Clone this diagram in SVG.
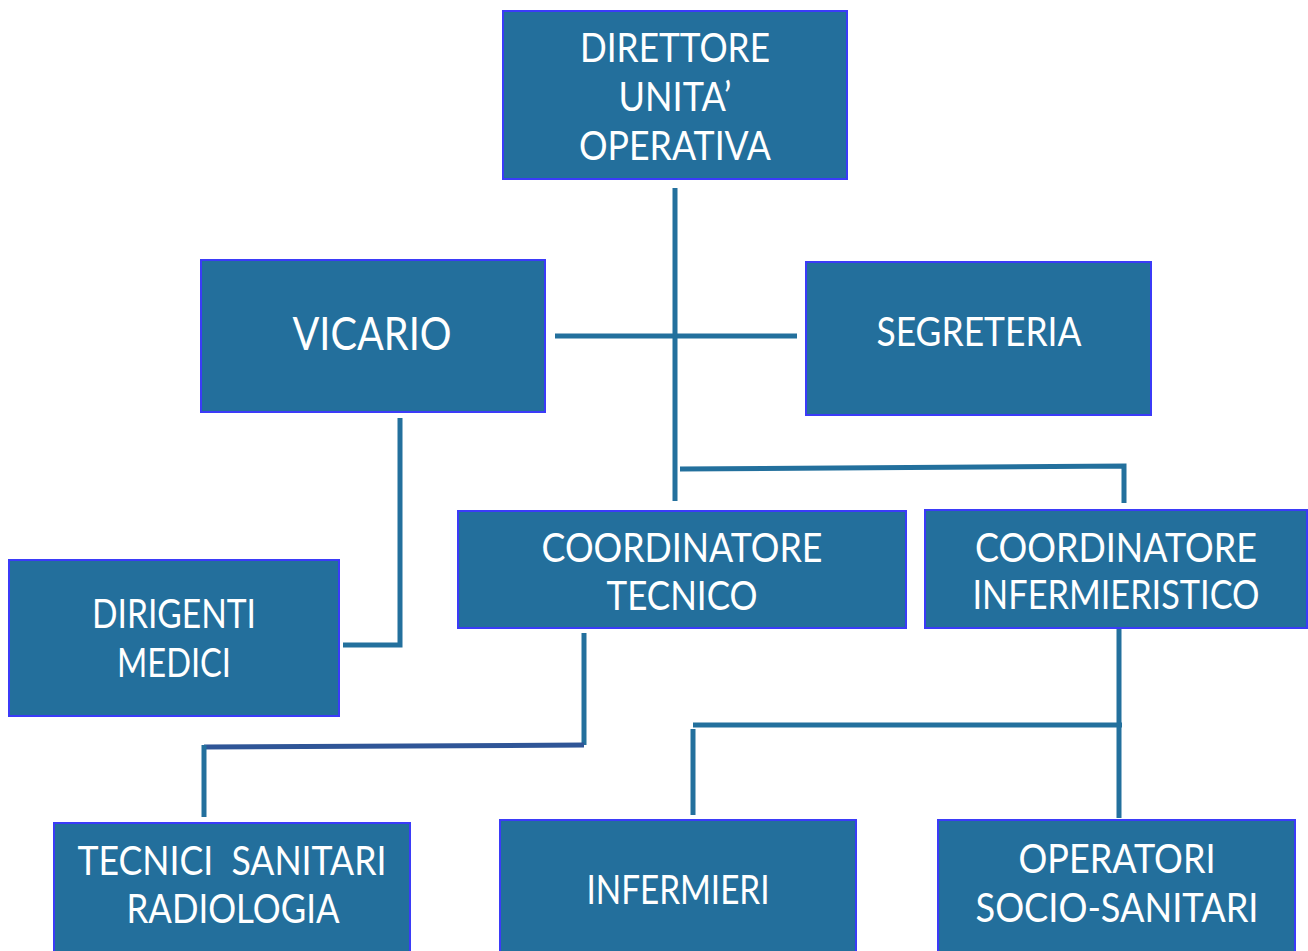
<svg xmlns="http://www.w3.org/2000/svg" width="1308" height="951" viewBox="0 0 1308 951">
<style>
.box{fill:#236f9c;stroke:#3b3bf8;stroke-width:2}
.t{font-family:Lato,"Open Sans",sans-serif;font-size:40px;fill:#ffffff;text-anchor:middle}
.c{stroke:#23709d;stroke-width:5;fill:none}
</style>
<rect width="1308" height="951" fill="#ffffff"/>
<g id="connectors">
<line class="c" x1="675" y1="188" x2="675" y2="501"/>
<line class="c" x1="555" y1="336" x2="797" y2="336"/>
<polyline class="c" points="680,469 1124,466 1124,503"/>
<polyline class="c" points="400,418 400,645 343,645"/>
<polyline class="c" points="584,633 584,745"/>
<line x1="204" y1="747" x2="584" y2="745" stroke="#2f5597" stroke-width="5"/>
<line class="c" x1="204" y1="745" x2="204" y2="817"/>
<line class="c" x1="1119" y1="628" x2="1119" y2="818"/>
<line class="c" x1="693" y1="725" x2="1122" y2="725"/>
<line class="c" x1="693" y1="729" x2="693" y2="815"/>
</g>
<g id="direttore">
<rect class="box" x="503" y="11" width="344" height="168"/>
<text class="t" x="675" y="62" textLength="190" lengthAdjust="spacingAndGlyphs">DIRETTORE</text>
<text class="t" x="675" y="111" textLength="113" lengthAdjust="spacingAndGlyphs">UNITA’</text>
<text class="t" x="675" y="160" textLength="192" lengthAdjust="spacingAndGlyphs">OPERATIVA</text>
</g>
<g id="vicario">
<rect class="box" x="201" y="260" width="344" height="152"/>
<text class="t" x="372" y="350" style="font-size:47px" textLength="159" lengthAdjust="spacingAndGlyphs">VICARIO</text>
</g>
<g id="segreteria">
<rect class="box" x="806" y="262" width="345" height="153"/>
<text class="t" x="979" y="346" textLength="205" lengthAdjust="spacingAndGlyphs">SEGRETERIA</text>
</g>
<g id="coord-tecnico">
<rect class="box" x="458" y="511" width="448" height="117"/>
<text class="t" x="682" y="562" textLength="281" lengthAdjust="spacingAndGlyphs">COORDINATORE</text>
<text class="t" x="682" y="610" textLength="151" lengthAdjust="spacingAndGlyphs">TECNICO</text>
</g>
<g id="coord-inf">
<rect class="box" x="925" y="510" width="382" height="118"/>
<text class="t" x="1116" y="562" textLength="282" lengthAdjust="spacingAndGlyphs">COORDINATORE</text>
<text class="t" x="1116" y="609" textLength="287" lengthAdjust="spacingAndGlyphs">INFERMIERISTICO</text>
</g>
<g id="dirigenti">
<rect class="box" x="9" y="560" width="330" height="156"/>
<text class="t" x="174" y="628" textLength="164" lengthAdjust="spacingAndGlyphs">DIRIGENTI</text>
<text class="t" x="174" y="677" textLength="114" lengthAdjust="spacingAndGlyphs">MEDICI</text>
</g>
<g id="tecnici">
<rect class="box" x="54" y="823" width="356" height="140"/>
<text class="t" x="232" y="875" textLength="309" lengthAdjust="spacingAndGlyphs" xml:space="preserve">TECNICI  SANITARI</text>
<text class="t" x="233" y="923" textLength="213" lengthAdjust="spacingAndGlyphs">RADIOLOGIA</text>
</g>
<g id="infermieri">
<rect class="box" x="500" y="820" width="356" height="143"/>
<text class="t" x="678" y="904" textLength="183" lengthAdjust="spacingAndGlyphs">INFERMIERI</text>
</g>
<g id="operatori">
<rect class="box" x="938" y="820" width="357" height="143"/>
<text class="t" x="1117" y="873" textLength="197" lengthAdjust="spacingAndGlyphs">OPERATORI</text>
<text class="t" x="1117" y="922" textLength="283" lengthAdjust="spacingAndGlyphs">SOCIO-SANITARI</text>
</g>
</svg>
